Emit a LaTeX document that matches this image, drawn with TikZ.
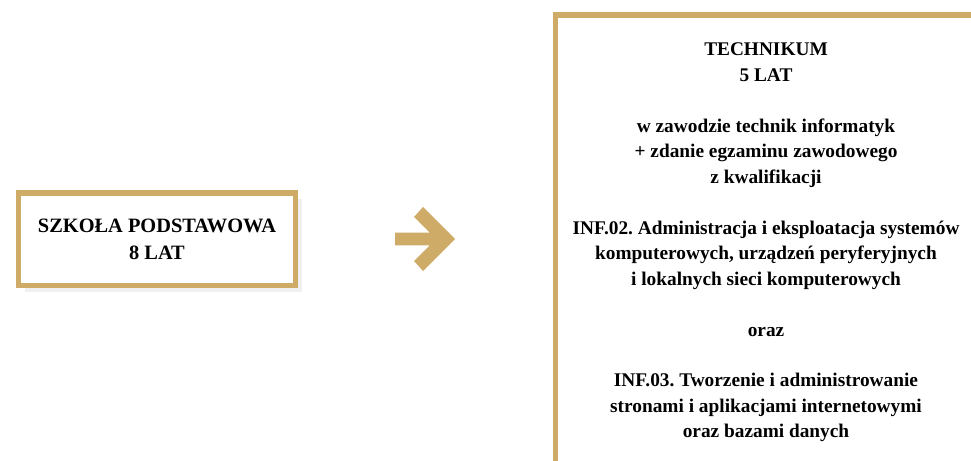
\documentclass[tikz,border=0pt]{standalone}
\usepackage{fontspec}
\setmainfont{Liberation Serif}
\usepackage{tkz-euclide}
\usetikzlibrary{shadows}
\definecolor{zloty}{RGB}{207,171,104}
\tikzset{ramka/.style={draw=zloty,line width=2.85pt,fill=white,align=center,
  font=\bfseries\fontsize{11}{14.5}\selectfont}}
\frenchspacing

\begin{document}
\begin{tikzpicture}[semithick]
\tkzInit[xmin=0,xmax=19.42,ymin=0,ymax=9.2]
\useasboundingbox(0,0)rectangle(19.42,9.2);
\tkzClip
\tkzDefPoints{3.14/4.415/S,15.32/4.35/T}
\tkzDefPoints{7.9/4.546/A,8.594/4.546/B,8.28/4.86/C,8.46/5.06/D,9.1/4.42/E}
\tkzDefPoints{8.46/3.78/F,8.28/3.98/G,8.594/4.294/H,7.9/4.294/K}
\node[ramka,font=\bfseries\fontsize{11.6}{15.6}\selectfont,
  drop shadow={opacity=0.12,shadow xshift=3.5pt,shadow yshift=-3.5pt},
  drop shadow={opacity=0.2,shadow xshift=1.5pt,shadow yshift=-1.5pt},
  minimum width=5.54cm,minimum height=1.85cm](szkola) at (S)
  {SZKOŁA PODSTAWOWA\\8 LAT};
\node[ramka,minimum width=8.44cm,minimum height=9.1cm](technikum) at (T)
  {TECHNIKUM\\5 LAT\\[14.5pt]
   w zawodzie technik informatyk\\+ zdanie egzaminu zawodowego\\z kwalifikacji\\[14.5pt]
   INF.02. Administracja i eksploatacja systemów\\komputerowych, urządzeń peryferyjnych\\i lokalnych sieci komputerowych\\[14.5pt]
   oraz\\[14.5pt]
   INF.03. Tworzenie i administrowanie\\stronami i aplikacjami internetowymi\\oraz bazami danych};
\fill[zloty](A)--(B)--(C)--(D)--(E)--(F)--(G)--(H)--(K)--cycle;
\end{tikzpicture}
\end{document}
